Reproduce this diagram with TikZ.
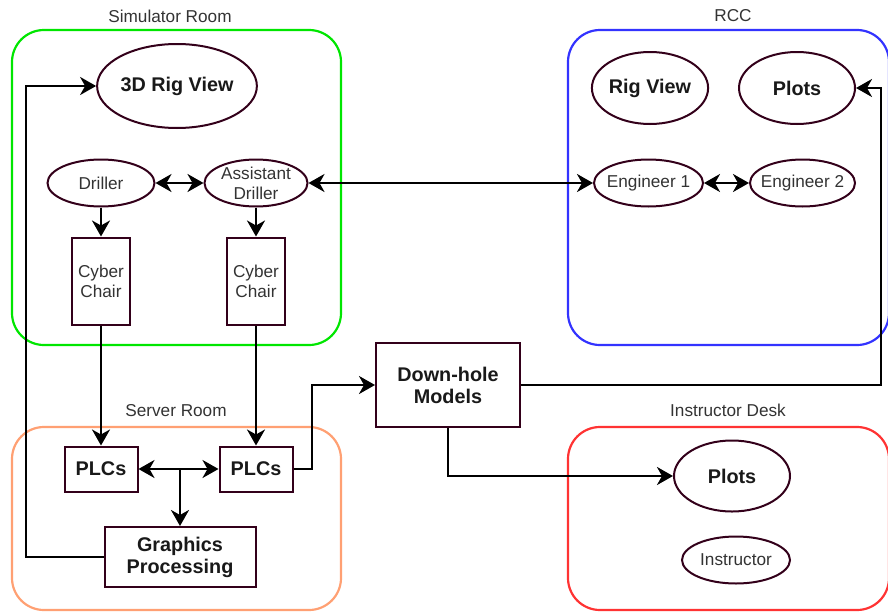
\documentclass[tikz,border=0pt]{standalone}
\usepackage{fontspec}
\setmainfont{Liberation Sans}
\usetikzlibrary{shapes.geometric,arrows.meta}
\definecolor{edgec}{RGB}{51,0,26}
\definecolor{txt}{RGB}{51,51,51}
\definecolor{grn}{RGB}{0,230,0}
\definecolor{blu}{RGB}{51,51,255}
\definecolor{org}{RGB}{255,160,115}
\definecolor{rd}{RGB}{255,51,51}
\begin{document}
\begin{tikzpicture}[x=1pt,y=-1pt,
  regf/.style={font=\fontsize{17.2}{20}\selectfont, text=txt},
  boldf/.style={font=\fontsize{19.8}{22}\selectfont\bfseries, text=black!90},
  ell/.style={ellipse, draw=edgec, line width=2pt, inner sep=0pt, fill=white, align=center},
  tightell/.style={ell, inner xsep=-5pt, inner ysep=-8pt},
  rbox/.style={rectangle, draw=edgec, line width=2pt, inner sep=0pt, fill=white, align=center},
  room/.style={line width=2.2pt, rounded corners=32pt},
  roomlabel/.style={font=\fontsize{17.2}{20}\selectfont, text=txt},
  conn/.style={line width=2.4pt, draw=black},
  tipped/.style={conn, -{Stealth[length=16pt,width=18pt,inset=5pt]}},
  dtipped/.style={conn, {Stealth[length=16pt,width=18pt,inset=5pt]}-{Stealth[length=16pt,width=18pt,inset=5pt]}}
]
\useasboundingbox (0,0) rectangle (888,613);
% rooms
\draw[room, draw=grn] (12,30) rectangle (341,345);
\draw[room, draw=org] (12,427) rectangle (341,610);
\draw[room, draw=blu] (568,30) rectangle (889,345);
\draw[room, draw=rd] (568,427) rectangle (889,610);
\node[roomlabel] (lsim) at (170,16) {Simulator Room};
\node[roomlabel] (lrcc) at (733,16) {RCC};
\node[roomlabel] (lsrv) at (176,411) {Server Room};
\node[roomlabel] (lins) at (728,410) {Instructor Desk};
% simulator room
\node[ell, boldf, minimum width=159pt, minimum height=84pt] (rig) at (177,86) {3D Rig View};
\node[tightell, regf, minimum width=107pt, minimum height=47pt] (dr) at (101,183) {Driller};
\node[tightell, regf, minimum width=103pt, minimum height=47pt] (ad) at (256,183) {Assistant\\Driller};
\node[rbox, regf, minimum width=58pt, minimum height=87pt] (cc1) at (101,281) {Cyber\\Chair};
\node[rbox, regf, minimum width=58pt, minimum height=87pt] (cc2) at (256,281) {Cyber\\Chair};
% server room
\node[rbox, boldf, minimum width=73pt, minimum height=45pt] (p1) at (101,469) {PLCs};
\node[rbox, boldf, minimum width=73pt, minimum height=45pt] (p2) at (256,469) {PLCs};
\node[rbox, boldf, minimum width=151pt, minimum height=60pt] (gp) at (180,557) {Graphics\\Processing};
% down-hole
\node[rbox, boldf, minimum width=144pt, minimum height=84pt] (dh) at (448,385) {Down-hole\\Models};
% RCC
\node[ell, boldf, minimum width=116pt, minimum height=72pt] (rv) at (650,88) {Rig View};
\node[ell, boldf, minimum width=116pt, minimum height=72pt] (pr) at (797,88) {Plots};
\node[tightell, regf, minimum width=109pt, minimum height=47pt] (e1) at (648.5,183) {Engineer 1};
\node[tightell, regf, minimum width=105pt, minimum height=47pt] (e2) at (802.5,183) {Engineer 2};
% instructor desk
\node[ell, boldf, minimum width=116pt, minimum height=71pt] (pi) at (732,476) {Plots};
\node[tightell, regf, minimum width=108pt, minimum height=47pt] (ins) at (736,560) {Instructor};
% corner coordinates
\coordinate (cl) at (26,0);
\coordinate (cm) at (312,0);
\coordinate (cr) at (881,0);
% connectors
\draw[dtipped] (dr) -- (ad);
\draw[dtipped] (ad) -- (e1);
\draw[dtipped] (e1) -- (e2);
\draw[tipped] (dr) -- (cc1);
\draw[tipped] (ad) -- (cc2);
\draw[tipped] (cc1) -- (p1);
\draw[tipped] (cc2) -- (p2);
\draw[dtipped] (p1) -- (p2);
\draw[tipped] (gp.north |- p1.east) -- (gp.north);
\draw[tipped] (gp.west) -- (gp.west -| cl) -- (rig.west -| cl) -- (rig.west);
\draw[tipped] (p2.east) -- (p2.east -| cm) -- (dh.west -| cm) -- (dh.west);
\draw[tipped] (dh.east) -- (dh.east -| cr) -- (pr.east -| cr) -- (pr.east);
\draw[tipped] (dh.south) |- (pi.west);
\end{tikzpicture}
\end{document}
